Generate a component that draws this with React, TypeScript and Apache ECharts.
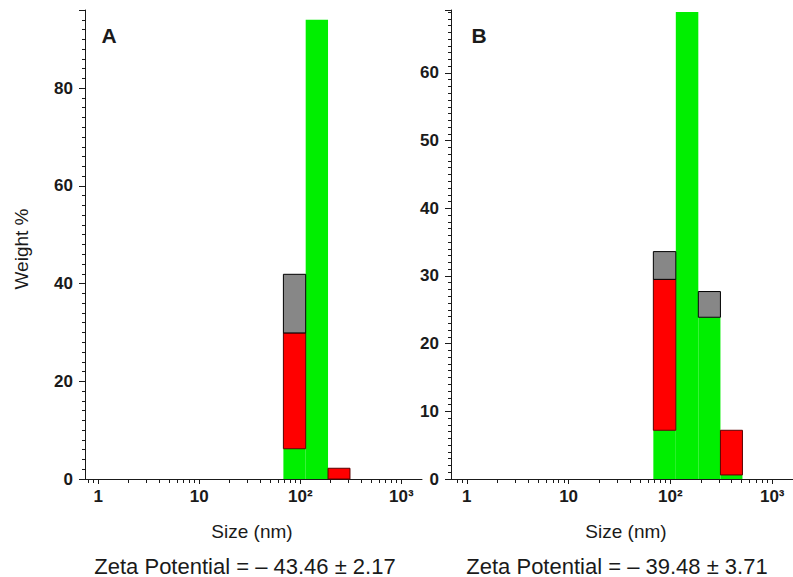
import React, { useEffect, useRef } from "react";
import * as echarts from "echarts";

// Size bins (nm), log-spaced edges shared by both panels
const binEdges = [68, 113, 188, 310, 510];

// Stacked weight % per bin: green at the base, red above it, grey on top
const greenA = [6.2, 94, 0, 0];
const redA = [23.7, 0, 2.2, 0];
const greyA = [12.0, 0, 0, 0];

const greenB = [7.2, 69, 23.9, 0.6];
const redB = [22.3, 0, 0, 6.6];
const greyB = [4.1, 0, 3.8, 0];

// Axis ticks
const sizeMajorTicks = [1, 10, 100, 1000];
const sizeMajorLabels = ["1", "10", "10²", "10³"];
const sizeMinorTicks = [
  0.8, 0.9, 2, 3, 4, 5, 6, 7, 8, 9, 20, 30, 40, 50, 60, 70, 80, 90,
  200, 300, 400, 500, 600, 700, 800, 900,
];
const weightStepA = 20;
const weightStepB = 10;
const weightMaxA = 96;
const weightMaxB = 69.3;

const SIZE_MIN_A = 0.74;
const SIZE_MIN_B = 0.7;
const SIZE_MAX = 1600;

const zetaA = "Zeta Potential = – 43.46 ± 2.17";
const zetaB = "Zeta Potential = – 39.48 ± 3.71";

const FONT = "'Liberation Sans', Arial, Helvetica, sans-serif";
const INK = "#1a1a1a";

const GREEN = "#00ef00";
const RED = "#ff0000";
const GREY = "#878787";

type Layer = { values: number[]; color: string; stroke: string | null };

function stackLayers(layers: Layer[]) {
  const base = binEdges.slice(1).map(() => 0);
  return layers.map((layer) => {
    const data = layer.values.map((v, i) => {
      const lo = base[i];
      base[i] += v;
      return [binEdges[i], binEdges[i + 1], lo, lo + v];
    });
    return { data, color: layer.color, stroke: layer.stroke };
  });
}

function barSeries(layers: Layer[], xIdx: number, yIdx: number) {
  return stackLayers(layers).map((l) => ({
    type: "custom",
    xAxisIndex: xIdx,
    yAxisIndex: yIdx,
    data: l.data,
    encode: { x: [0, 1], y: [2, 3] },
    renderItem: (_params: any, api: any) => {
      const x0 = api.value(0);
      const x1 = api.value(1);
      const lo = api.value(2);
      const hi = api.value(3);
      if (hi - lo <= 0) return null;
      const pTop = api.coord([x0, hi]);
      const pBot = api.coord([x1, lo]);
      return {
        type: "rect",
        shape: {
          x: pTop[0],
          y: pTop[1],
          width: pBot[0] - pTop[0],
          height: pBot[1] - pTop[1],
        },
        style: {
          fill: l.color,
          stroke: l.stroke || "none",
          lineWidth: l.stroke ? 1 : 0,
        },
      };
    },
  }));
}

function sizeAxes(grid: number, min: number, max: number) {
  return [
    {
      type: "log",
      gridIndex: grid,
      position: "bottom",
      min,
      max,
      logBase: 10,
      axisLine: { onZero: false, lineStyle: { color: INK, width: 1 } },
      axisTick: {
        customValues: sizeMajorTicks,
        length: 5,
        lineStyle: { color: INK, width: 1 },
      },
      axisLabel: {
        customValues: sizeMajorTicks,
        margin: 9,
        fontFamily: FONT,
        fontWeight: "bold",
        fontSize: 17,
        color: INK,
        formatter: (v: number) => {
          const i = sizeMajorTicks.findIndex((t) => Math.abs(t - v) < t * 1e-6);
          return i >= 0 ? sizeMajorLabels[i] : "";
        },
      },
      splitLine: { show: false },
      minorTick: { show: false },
    },
    {
      type: "log",
      gridIndex: grid,
      position: "bottom",
      min,
      max,
      logBase: 10,
      axisLine: { show: false, onZero: false },
      axisTick: {
        customValues: sizeMinorTicks,
        length: 4,
        lineStyle: { color: INK, width: 1 },
      },
      axisLabel: { show: false },
      splitLine: { show: false },
    },
  ];
}

function weightAxis(grid: number, max: number, step: number) {
  return {
    type: "value",
    gridIndex: grid,
    position: "left",
    min: 0,
    max,
    interval: step,
    axisLine: { show: true, onZero: false, lineStyle: { color: INK, width: 1 } },
    axisTick: {
      show: true,
      length: 6,
      lineStyle: { color: INK, width: 1 },
    },
    minorTick: {
      show: true,
      splitNumber: 10,
      length: 3,
      lineStyle: { color: INK, width: 1 },
    },
    axisLabel: {
      margin: 12,
      fontFamily: FONT,
      fontWeight: "bold",
      fontSize: 17,
      color: INK,
      showMaxLabel: false,
      formatter: (v: number) => (Math.abs(v / step - Math.round(v / step)) < 1e-6 ? String(v) : ""),
    },
    splitLine: { show: false },
    minorSplitLine: { show: false },
  };
}

export default function App() {
  const ref = useRef<HTMLDivElement>(null);

  useEffect(() => {
    if (!ref.current) return;
    const chart = echarts.init(ref.current, undefined, { renderer: "svg" });

    const text = (t: string, x: number, y: number, font: string, rotation = 0) => ({
      type: "text",
      x,
      y,
      rotation,
      style: {
        text: t,
        font,
        fill: INK,
        textAlign: "center",
        textVerticalAlign: "middle",
      },
    });

    const option = {
      animation: false,
      backgroundColor: "#ffffff",
      textStyle: { fontFamily: FONT },
      grid: [
        { left: 85, top: 10, width: 337, height: 469 },
        { left: 451, top: 10, width: 345, height: 469 },
      ],
      xAxis: [...sizeAxes(0, SIZE_MIN_A, SIZE_MAX), ...sizeAxes(1, SIZE_MIN_B, SIZE_MAX)],
      yAxis: [weightAxis(0, weightMaxA, weightStepA), weightAxis(1, weightMaxB, weightStepB)],
      series: [
        ...barSeries(
          [
            { values: greenA, color: GREEN, stroke: null },
            { values: redA, color: RED, stroke: "#5a0000" },
            { values: greyA, color: GREY, stroke: "#000000" },
          ],
          0,
          0
        ),
        ...barSeries(
          [
            { values: greenB, color: GREEN, stroke: null },
            { values: redB, color: RED, stroke: "#5a0000" },
            { values: greyB, color: GREY, stroke: "#000000" },
          ],
          2,
          1
        ),
      ],
      graphic: [
        text("A", 109, 35, `bold 21px ${FONT}`),
        text("B", 479, 35, `bold 21px ${FONT}`),
        text("Weight %", 21, 249, `19px ${FONT}`, Math.PI / 2),
        text("Size (nm)", 252, 531, `19px ${FONT}`),
        text("Size (nm)", 626, 531, `19px ${FONT}`),
        text(zetaA, 245, 566, `22px ${FONT}`),
        text(zetaB, 617, 566, `22px ${FONT}`),
      ],
    };

    chart.setOption(option as any);
    return () => chart.dispose();
  }, []);

  return (
    <div
      ref={ref}
      style={{ position: "absolute", left: 0, top: 0, width: 793, height: 577, background: "#fff" }}
    />
  );
}
